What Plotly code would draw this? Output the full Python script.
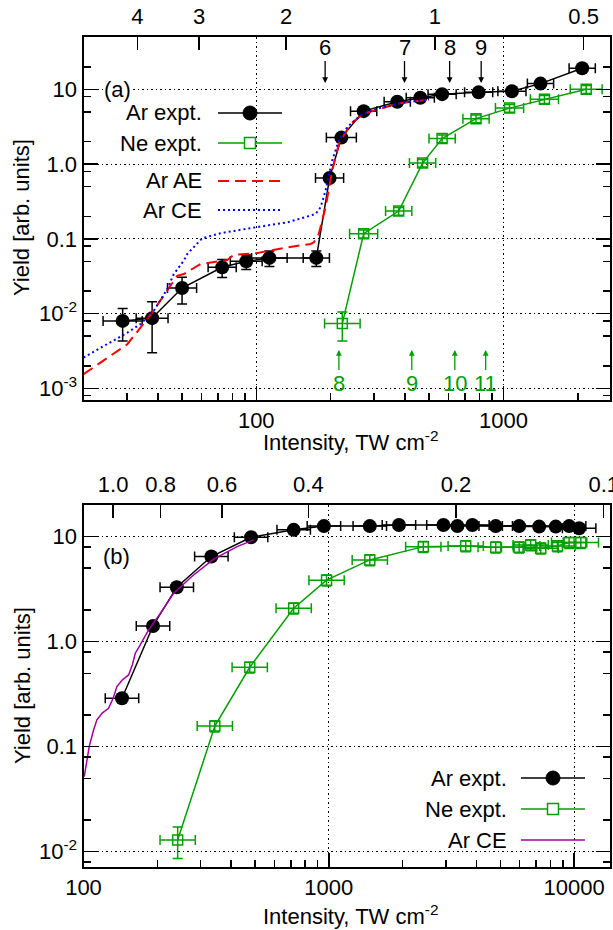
import math
import plotly.graph_objects as go

W, H = 613, 930          # target picture size
FONT = "Liberation Sans"
BLACK, GREEN, RED, BLUE, PURPLE = "#000000", "#00a000", "#ff0000", "#0000ff", "#a000a0"

# ---------------- panel (a) data ----------------
ar_a_I = [28.8, 37.9, 50.1, 72.8, 91.1, 113, 175, 198, 221, 272, 372, 461, 565, 794, 1083, 1413, 2084]
ar_a_Y = [0.0080, 0.0087, 0.022, 0.0416, 0.050, 0.0556, 0.0556, 0.65, 2.26, 5.1, 6.8, 7.7, 8.6, 9.1, 9.4, 11.9, 19.1]
ar_a_dY = [0.0037, 0.0057, 0.0086, 0.0113, 0.011, 0.013, 0.013, 0, 0, 0, 0, 0, 0, 0, 0, 0, 0]
ar_a_dI = [0.20, 0.16, 0.145, 0.14, 0.16, 0.18, 0.13, 0.14, 0.15, 0.13, 0.13, 0.14, 0.14, 0.14, 0.14, 0.13, 0.13]

ne_a_I = [223, 272, 377, 471, 565, 775, 1059, 1466, 2163]
ne_a_Y = [0.0074, 0.117, 0.235, 1.03, 2.19, 4.05, 5.6, 7.35, 10.0]
ne_a_dY = [0.0031, 0.014, 0.028, 0.12, 0.26, 0.49, 0.67, 0.88, 1.2]
ne_a_dI = [0.18, 0.14, 0.13, 0.13, 0.13, 0.13, 0.14, 0.14, 0.16]

ae_a_I = [20.0, 30.1, 37.9, 43.6, 47.9, 50.9, 59.5, 76.4, 81.2, 100, 133.6, 166, 171, 179, 190.8, 203, 216, 241, 272.7, 372, 500]
ae_a_Y = [0.00155, 0.0039, 0.0103, 0.0202, 0.0321, 0.0338, 0.0461, 0.0521, 0.0614, 0.0643, 0.0769, 0.0855, 0.0898, 0.116, 0.264, 0.82, 1.87, 3.47, 4.72, 6.43, 7.28]

ce_a_I = [20.0, 24.2, 30.1, 34.0, 38.5, 43.6, 46.4, 50.9, 52.6, 60.4, 71.7, 99.4, 133.6, 166, 174, 182, 190.8, 203, 216, 233.5, 264, 309, 384, 500]
ce_a_Y = [0.00258, 0.0037, 0.00558, 0.00723, 0.0109, 0.0213, 0.0338, 0.051, 0.0628, 0.1016, 0.119, 0.1426, 0.166, 0.205, 0.216, 0.264, 0.443, 1.12, 2.07, 3.12, 4.48, 5.51, 6.55, 7.28]

ar_thr_I = [190, 398, 606, 813]
ar_thr_lab = ["6", "7", "8", "9"]
ne_thr_I = [216, 426, 636, 848]
ne_thr_lab = ["8", "9", "10", "11"]

gamma_a = [4, 3, 2, 1, 0.5]
gamma_a_lab = ["4", "3", "2", "1", "0.5"]
gamma_a_I1 = 528.0      # intensity (TW cm^-2) at gamma = 1, panel (a)

# ---------------- panel (b) data ----------------
ar_b_I = [143.5, 192, 240, 332, 482, 719, 955, 1469, 1931, 2932, 3342, 3848, 4790, 5966, 7200, 8415, 9540, 10480]
ar_b_Y = [0.289, 1.41, 3.30, 6.46, 9.87, 11.6, 12.6, 12.6, 12.9, 12.9, 12.6, 12.9, 12.6, 12.6, 12.45, 12.45, 12.6, 12.0]
ar_b_dI = [0.17] * 18

ne_b_I = [242, 343, 476, 719, 979, 1469, 2427, 3614, 4790, 5967, 6650, 7308, 8550, 9540, 10650]
ne_b_Y = [0.0129, 0.157, 0.570, 2.08, 3.85, 6.0, 8.03, 8.15, 7.93, 7.93, 8.33, 7.76, 8.15, 8.77, 8.77]
ne_b_dY = [0.0043, 0.019, 0.068, 0.25, 0.46, 0.72, 0.96, 0.98, 0.95, 0.95, 1.0, 0.93, 0.98, 1.05, 1.05]
ne_b_dI = [0.18] * 15

ce_b_I = [100.7, 105.5, 109.9, 113.4, 119.2, 126.5, 132.2, 136.8, 143.9, 152.7, 158.1, 162.6, 170.3, 184.1, 205.6, 232.9, 281, 339.5, 422.6, 494]
ce_b_Y = [0.0518, 0.100, 0.144, 0.180, 0.209, 0.232, 0.291, 0.373, 0.431, 0.482, 0.600, 0.776, 0.931, 1.29, 1.86, 2.89, 4.31, 6.10, 8.03, 9.31]

gamma_b = [1.0, 0.8, 0.6, 0.4, 0.2, 0.1]
gamma_b_I1 = 132.0
gamma_b_lab = ["1.0", "0.8", "0.6", "0.4", "0.2", "0.1"]


def px(x):
    return x / W


def py(y):
    return 1 - y / H


def xerr(I, f):
    return dict(type="data", symmetric=False,
                array=[i * r for i, r in zip(I, f)],
                arrayminus=[i * r / (1 + r) for i, r in zip(I, f)],
                thickness=1.5, width=5)


def minors(lo, hi, mults):
    out = []
    for e in range(lo, hi + 1):
        for m in mults:
            out.append(m * 10 ** e)
    return out


fig = go.Figure()

# panel (a) traces
fig.add_trace(go.Scatter(x=ar_a_I, y=ar_a_Y, xaxis="x", yaxis="y", mode="lines+markers",
                         line=dict(color=BLACK, width=1.5),
                         marker=dict(symbol="circle", size=14, color=BLACK),
                         error_x=dict(xerr(ar_a_I, ar_a_dI), color=BLACK),
                         error_y=dict(type="data", array=ar_a_dY, color=BLACK, thickness=1.5, width=5),
                         name="Ar expt.", showlegend=False))
fig.add_trace(go.Scatter(x=ne_a_I, y=ne_a_Y, xaxis="x", yaxis="y", mode="lines+markers",
                         line=dict(color=GREEN, width=1.5),
                         marker=dict(symbol="square-open", size=10, color=GREEN, line=dict(width=1.5, color=GREEN)),
                         error_x=dict(xerr(ne_a_I, ne_a_dI), color=GREEN),
                         error_y=dict(type="data", array=ne_a_dY, color=GREEN, thickness=1.5, width=5),
                         name="Ne expt.", showlegend=False))
fig.add_trace(go.Scatter(x=ae_a_I, y=ae_a_Y, xaxis="x", yaxis="y", mode="lines",
                         line=dict(color=RED, width=2, dash="11px,6px"), name="Ar AE", showlegend=False))
fig.add_trace(go.Scatter(x=ce_a_I, y=ce_a_Y, xaxis="x", yaxis="y", mode="lines",
                         line=dict(color=BLUE, width=2, dash="2px,3px"), name="Ar CE", showlegend=False))
# Keldysh-parameter axis (top of panel a) needs a trace to be drawn
fig.add_trace(go.Scatter(x=[gamma_a_I1 / g ** 2 for g in gamma_a], y=[None] * len(gamma_a),
                         xaxis="x2", yaxis="y", mode="markers", showlegend=False, hoverinfo="skip"))

# panel (b) traces
fig.add_trace(go.Scatter(x=ar_b_I, y=ar_b_Y, xaxis="x3", yaxis="y2", mode="lines+markers",
                         line=dict(color=BLACK, width=1.5),
                         marker=dict(symbol="circle", size=14, color=BLACK),
                         error_x=dict(xerr(ar_b_I, ar_b_dI), color=BLACK),
                         name="Ar expt.", showlegend=False))
fig.add_trace(go.Scatter(x=ne_b_I, y=ne_b_Y, xaxis="x3", yaxis="y2", mode="lines+markers",
                         line=dict(color=GREEN, width=1.5),
                         marker=dict(symbol="square-open", size=10, color=GREEN, line=dict(width=1.5, color=GREEN)),
                         error_x=dict(xerr(ne_b_I, ne_b_dI), color=GREEN),
                         error_y=dict(type="data", array=ne_b_dY, color=GREEN, thickness=1.5, width=5),
                         name="Ne expt.", showlegend=False))
fig.add_trace(go.Scatter(x=ce_b_I, y=ce_b_Y, xaxis="x3", yaxis="y2", mode="lines",
                         line=dict(color=PURPLE, width=1.5), name="Ar CE", showlegend=False))
fig.add_trace(go.Scatter(x=[gamma_b_I1 / g ** 2 for g in gamma_b], y=[None] * len(gamma_b),
                         xaxis="x4", yaxis="y2", mode="markers", showlegend=False, hoverinfo="skip"))

tickfont = dict(family=FONT, size=22, color=BLACK)
base = dict(type="log", showline=True, linecolor=BLACK, linewidth=2, ticks="inside", ticklen=14,
            tickwidth=1.5, tickcolor=BLACK, tickfont=tickfont, showgrid=True, gridcolor=BLACK,
            gridwidth=1, griddash="1.5px,3px", zeroline=False, tickmode="array", automargin=False,
            ticklabeloverflow="allow")
top_ax = dict(type="log", showline=False, ticks="inside", ticklen=13, tickwidth=1.5, tickcolor=BLACK,
              tickfont=tickfont, showgrid=False, zeroline=False, tickmode="array", side="top",
              ticklabelstandoff=8, automargin=False, autorange=False, ticklabeloverflow="allow")
minor_style = dict(ticks="inside", ticklen=7, tickwidth=1.5, tickcolor=BLACK, showgrid=False)

xdom = [px(83.5), px(610)]
rng_xa = [math.log10(20), math.log10(2700)]
rng_xb = [2, math.log10(14000)]

fig.update_layout(
    template="none",
    width=W, height=H, margin=dict(l=0, r=0, t=0, b=0, autoexpand=False),
    paper_bgcolor="white", plot_bgcolor="white", showlegend=False,
    font=dict(family=FONT, size=22, color=BLACK),
    xaxis=dict(base, domain=xdom, anchor="y", range=rng_xa, mirror=True,
               tickvals=[100, 1000], ticktext=["100", "1000"],
               minor=dict(minor_style, tickvals=minors(1, 3, [2, 3, 4, 5, 6, 7, 8, 9]))),
    xaxis2=dict(top_ax, overlaying="x", anchor="y", range=rng_xa,
                tickvals=[gamma_a_I1 / g ** 2 for g in gamma_a], ticktext=gamma_a_lab),
    yaxis=dict(base, domain=[py(400), py(37)], anchor="x", range=[math.log10(7e-4), math.log10(50)],
               mirror="ticks",
               tickvals=[1e-3, 1e-2, 0.1, 1, 10],
               ticktext=["10<sup>-3</sup>", "10<sup>-2</sup>", "0.1", "1.0", "10"],
               minor=dict(minor_style, tickvals=minors(-4, 1, [2, 5, 8]))),
    xaxis3=dict(base, domain=xdom, anchor="y2", range=rng_xb, mirror=True,
                tickvals=[100, 1000, 10000], ticktext=["100", "1000", "10000"],
                minor=dict(minor_style, tickvals=minors(2, 4, [2, 3, 4, 5, 6, 7, 8, 9]))),
    xaxis4=dict(top_ax, overlaying="x3", anchor="y2", range=rng_xb,
                tickvals=[gamma_b_I1 / g ** 2 for g in gamma_b], ticktext=gamma_b_lab),
    yaxis2=dict(base, domain=[py(866.7), py(505)], anchor="x3", range=[math.log10(0.0072), math.log10(20)],
                mirror="ticks",
                tickvals=[1e-2, 0.1, 1, 10],
                ticktext=["10<sup>-2</sup>", "0.1", "1.0", "10"],
                minor=dict(minor_style, tickvals=minors(-3, 1, [2, 5, 8]))),
)

ann = []
shapes = []


def text_at(text, x, y, **kw):
    d = dict(text=text, x=px(x), y=py(y), xref="paper", yref="paper", showarrow=False,
             xanchor="center", yanchor="middle", font=dict(size=22))
    d.update(kw)
    ann.append(d)


# panel labels and titles
text_at("(a)", 117.5, 89, bgcolor="white", borderpad=0)
text_at("(b)", 116.5, 556.7)
for yc in (218, 686):
    text_at("Yield [arb. units]", 22, yc, textangle=-90)
for yc in (441, 915):
    text_at("Intensity, TW cm<sup>-2</sup>", 350, yc)

# threshold arrows (label sits at the arrow tail)
for I, lab in zip(ar_thr_I, ar_thr_lab):
    ann.append(dict(text=lab, x=math.log10(I), y=py(83), xref="x", yref="paper", showarrow=True,
                    ax=0, ay=-35, arrowhead=2, arrowsize=0.9, arrowwidth=1.3, arrowcolor=BLACK,
                    font=dict(size=22, color=BLACK), borderpad=0))
for I, lab in zip(ne_thr_I, ne_thr_lab):
    ann.append(dict(text=lab, x=math.log10(I), y=py(350), xref="x", yref="paper", showarrow=True,
                    ax=0, ay=33, arrowhead=2, arrowsize=0.9, arrowwidth=1.3, arrowcolor=GREEN,
                    font=dict(size=22, color=GREEN), borderpad=0))


# custom legends (text left of sample, as in the reference)
def legend_box(x0, y0, x1, y1):
    shapes.append(dict(type="rect", xref="paper", yref="paper", x0=px(x0), x1=px(x1), y0=py(y1), y1=py(y0),
                       fillcolor="white", line=dict(width=0), layer="between"))


def legend_row(text, ytxt, xr, l0, l1, kind, color, dash=None):
    text_at(text, xr, ytxt, xanchor="right")
    shapes.append(dict(type="line", xref="paper", yref="paper", x0=px(l0), x1=px(l1), y0=py(ytxt), y1=py(ytxt),
                       line=dict(color=color, width=2 if dash else 1.5, dash=dash or "solid"), layer="above"))
    xm = (l0 + l1) / 2
    if kind == "circle":
        shapes.append(dict(type="circle", xref="paper", yref="paper", xsizemode="pixel", ysizemode="pixel",
                           xanchor=px(xm), yanchor=py(ytxt), x0=-7, x1=7, y0=-7, y1=7,
                           fillcolor=color, line=dict(color=color, width=1), layer="above"))
    elif kind == "square":
        shapes.append(dict(type="rect", xref="paper", yref="paper", xsizemode="pixel", ysizemode="pixel",
                           xanchor=px(xm), yanchor=py(ytxt), x0=-5.5, x1=5.5, y0=-5.5, y1=5.5,
                           fillcolor="white", line=dict(color=color, width=1.5), layer="above"))


legend_box(100, 97, 293, 226)
legend_row("Ar expt.", 113, 204, 218, 282, "circle", BLACK)
legend_row("Ne expt.", 143, 204, 218, 282, "square", GREEN)
legend_row("Ar AE", 181, 204, 218, 282, None, RED, "11px,6px")
legend_row("Ar CE", 210, 204, 218, 282, None, BLUE, "2px,3px")

legend_box(408, 760, 609, 865)
legend_row("Ar expt.", 778, 509, 521, 585, "circle", BLACK)
legend_row("Ne expt.", 809, 509, 521, 585, "square", GREEN)
legend_row("Ar CE", 840, 509, 521, 585, None, PURPLE)

fig.update_layout(annotations=ann, shapes=shapes)
# remove the default 8px page margin so the 613x930 figure fills the window exactly
fig.write_html("out.html", config={"displayModeBar": False, "staticPlot": True},
               post_script="document.body.style.margin='0px';")
